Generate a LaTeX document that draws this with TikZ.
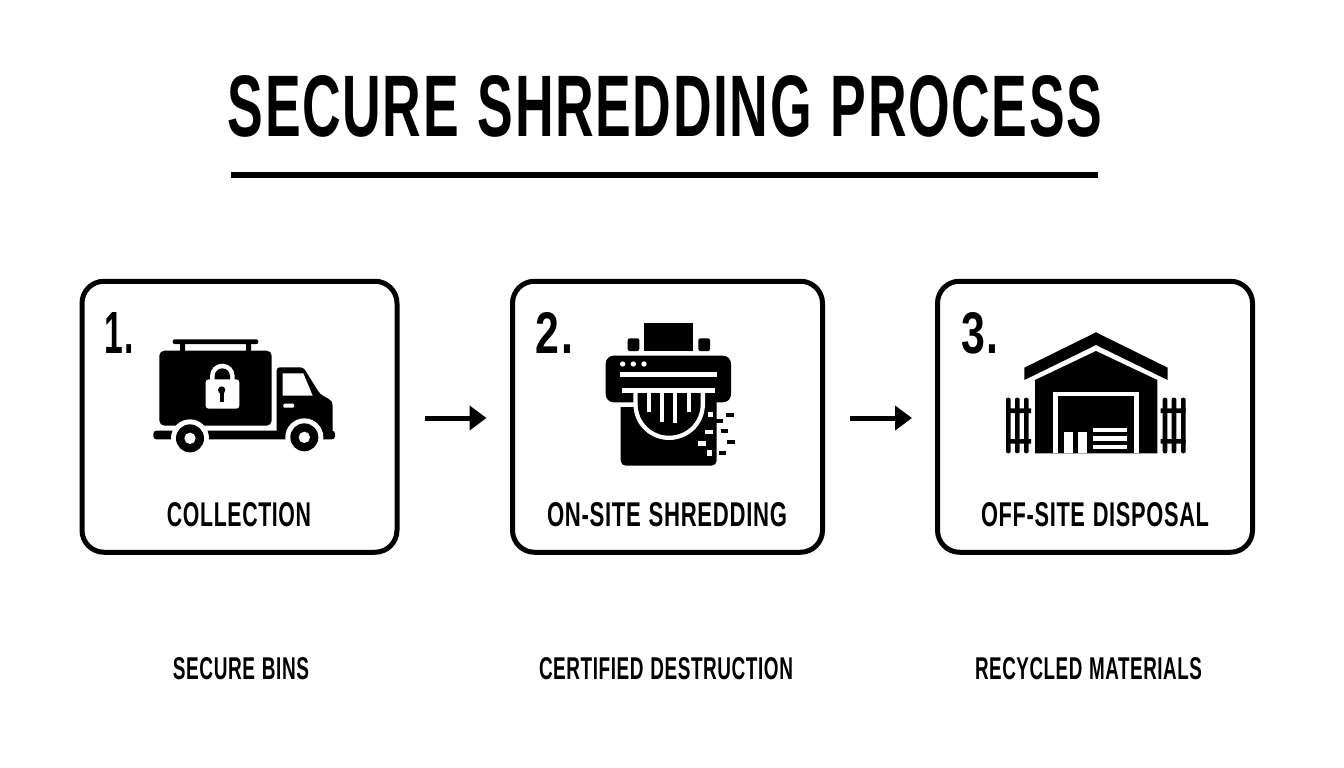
\documentclass[tikz,border=0pt]{standalone}
\usepackage{fontspec}
\setmainfont{Liberation Sans}[LetterSpace=3,WordSpace=1.15]
\usetikzlibrary{arrows.meta}
\newcommand{\fittext}[3]{\resizebox{#1pt}{#2pt}{\bfseries #3}}
\tikzset{
  stepbox/.style={draw=black,line width=5pt,rounded corners=22pt,fill=white,minimum width=315pt,minimum height=271pt,inner sep=0pt},
  lbl/.style={inner sep=0pt,outer sep=0pt,text=black},
  conn/.style={line width=5pt,draw=black,-{Triangle[length=17pt,width=24pt]}},
  wh/.style={fill=white,draw=none},
  bl/.style={fill=black,draw=none},
  icon/.style={scale=1/3}
}
\begin{document}
\begin{tikzpicture}[x=1pt,y=-1pt]
\useasboundingbox (0,0) rectangle (1344,768);
\fill[white] (0,0) rectangle (1344,768);
% title
\node[lbl] (title) at (665,106.5) {\fittext{874}{61}{SECURE SHREDDING PROCESS}};
\coordinate (ruleL) at (231,175);
\coordinate (ruleR) at (1098,175);
\draw[line width=6pt] (ruleL) -- (ruleR);
% boxes
\node[stepbox] (box1) at (239.5,416.75) {};
\node[stepbox,minimum width=310pt] (box2) at (667.5,416.75) {};
\node[stepbox] (box3) at (1095,416.75) {};
% numbers
\node[lbl] (n1) at (119.5,332.5) {\fittext{29}{41}{1.}};
\node[lbl] (n2) at (554.5,333) {\fittext{37}{41}{2.}};
\node[lbl] (n3) at (979.5,333) {\fittext{37}{41}{3.}};
% labels
\node[lbl] (t1) at (239,515) {\fittext{144}{24}{COLLECTION}};
\node[lbl] (t2) at (667,515) {\fittext{240}{24}{ON-SITE SHREDDING}};
\node[lbl] (t3) at (1095,515) {\fittext{228}{24}{OFF-SITE DISPOSAL}};
\node[lbl] (b1) at (241,669) {\fittext{136}{22}{SECURE BINS}};
\node[lbl] (b2) at (666,669) {\fittext{254}{22}{CERTIFIED DESTRUCTION}};
\node[lbl] (b3) at (1088.5,669) {\fittext{227}{22}{RECYCLED MATERIALS}};
% connectors
\draw[conn,shorten <=25.5pt,shorten >=23.5pt] ([yshift=-1.25pt]box1.east) -- ([yshift=-1.25pt]box2.west);
\draw[conn,shorten <=25pt,shorten >=23pt] ([yshift=-1.25pt]box2.east) -- ([yshift=-1.25pt]box3.west);
% truck
\begin{scope}[shift={(140,320)},icon]
\fill[bl,rounded corners=2pt] (98,58) rectangle (355,72);
\fill[bl] (120,70) rectangle (135,94) (318,70) rectangle (333,94);
\fill[bl,rounded corners=5pt] (58,92) rectangle (395,317);
\fill[bl,rounded corners=3pt] (410,340) -- (410,142) -- (490,142) -- (540,222) -- (572,240) -- (578,250) -- (578,340) -- cycle;
\fill[bl,rounded corners=3pt] (40,332) rectangle (585,358);
\fill[wh] (428,160) -- (490,160) -- (518,227) -- (428,227) -- cycle;
\fill[wh,rounded corners=1pt] (430,251) rectangle (462,263);
% lock
\fill[wh] (210,185) -- (210,168) arc[start angle=180,end angle=360,radius=37] -- (284,185) -- cycle;
\fill[bl] (224,180) -- (224,168) arc[start angle=180,end angle=360,radius=23] -- (270,180) -- cycle;
\fill[wh,rounded corners=3pt] (197,178) rectangle (298,266);
\fill[bl] (245,210) circle[radius=11];
\fill[bl] (239,212) rectangle (251,245);
% wheels
\foreach \cx/\cy in {150/355,493/352}{
  \fill[wh] (\cx,\cy) circle[radius=57];
  \fill[bl] (\cx,\cy) circle[radius=42];
  \fill[wh] (\cx,\cy) circle[radius=17];
}
\end{scope}
% shredder
\begin{scope}[shift={(590,315)},icon]
\fill[bl] (163,25) rectangle (310,108);
\fill[bl,rounded corners=2pt] (113,108) -- (113,70) -- (148,70) -- (148,108) -- cycle;
\fill[bl,rounded corners=2pt] (325,108) -- (325,70) -- (360,70) -- (360,108) -- cycle;
\fill[bl,rounded corners=5pt] (92,240) -- (92,452) -- (380,452) -- (380,240) -- cycle;
\fill[wh] (85,262) rectangle (132,275);
\fill[bl,rounded corners=8pt] (47,122) rectangle (423,262);
\fill[wh] (90,172) rectangle (380,186);
\fill[wh] (97,220) rectangle (375,234);
\foreach \cx in {98,130,162}{\fill[wh] (\cx,147) circle[radius=8];}
\fill[wh] (130,234) -- (130,265) .. controls (130,335) and (185,375) .. (237,375) .. controls (290,375) and (345,335) .. (345,265) -- (345,234) -- cycle;
\fill[bl] (143,234) -- (143,265) .. controls (143,325) and (190,362) .. (237,362) .. controls (285,362) and (332,325) .. (332,265) -- (332,234) -- cycle;
\fill[wh] (170,234) rectangle (183,290);
\fill[wh] (210,234) rectangle (222,320);
\fill[wh] (250,234) rectangle (262,325);
\fill[wh] (290,234) rectangle (302,290);
\fill[wh] (355,292) rectangle (370,307);
\fill[wh] (345,344) rectangle (370,357);
\fill[wh] (325,378) rectangle (349,392);
\fill[wh] (350,406) rectangle (365,422);
\fill[bl] (408,295) rectangle (432,306);
\fill[bl] (378,313) rectangle (398,325);
\fill[bl] (393,342) rectangle (415,353);
\fill[bl] (410,375) rectangle (434,386);
\fill[bl] (387,407) rectangle (407,419);
\end{scope}
% warehouse
\begin{scope}[shift={(995,325)},icon]
\fill[bl] (88,128) -- (303,22) -- (518,128) -- (518,165) -- (303,60) -- (88,165) -- cycle;
\fill[bl] (120,385) -- (120,165) -- (303,78) -- (487,165) -- (487,385) -- cycle;
\fill[wh] (173,200) rectangle (432,385);
\fill[bl] (188,214) rectangle (417,385);
\fill[wh] (207,320) rectangle (275,385);
\fill[bl] (234,320) rectangle (248,385);
\fill[wh] (295,309) rectangle (397,322);
\fill[wh] (295,333) rectangle (397,347);
\fill[wh] (295,359) rectangle (397,373);
\foreach \px in {33,60,87,503,530,558}{\fill[bl,rounded corners=2pt] (\px,218) rectangle (\px+14,385);}
\fill[bl] (33,250) rectangle (108,264) (33,342) rectangle (108,356);
\fill[bl] (497,250) rectangle (572,264) (497,342) rectangle (572,356);
\end{scope}
\end{tikzpicture}
\end{document}
